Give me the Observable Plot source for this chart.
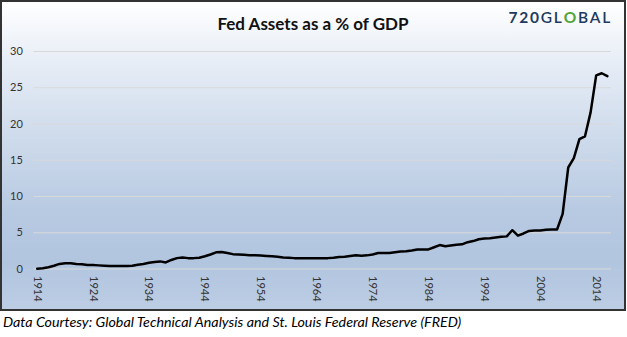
<!DOCTYPE html>
<html><head><meta charset="utf-8">
<script src="https://cdn.jsdelivr.net/npm/d3@7"></script>
<script src="https://cdn.jsdelivr.net/npm/@observablehq/plot@0.6"></script>
<style>
html,body{margin:0;padding:0;background:#fff;}
#wrap{position:relative;width:627px;height:337px;overflow:hidden;font-family:Lato,"Open Sans",sans-serif;}
#box{position:absolute;left:0;top:0;width:622px;height:307px;border:2px solid #333;
  background:linear-gradient(to bottom,#ffffff 0%,#e4ebf5 22%,#cddaeb 45%,#b8cae2 68%,#b2c5df 85%,#bccde4 100%);}
#title{position:absolute;left:0;right:0;top:12px;text-align:center;font-weight:bold;font-size:17px;color:#111;line-height:20px;}
#logo{position:absolute;right:12px;top:6px;font-size:15.5px;line-height:18px;color:#1f3a60;letter-spacing:1.8px;font-weight:bold;}
#logo .g{color:#4fa43a;}
#chart{position:absolute;left:0;top:38px;}
#caption{position:absolute;left:3px;top:313px;font-style:italic;font-size:14.3px;line-height:18px;color:#000;white-space:nowrap;}
</style>
</head><body>
<div id="wrap">
  <div id="box">
    <div id="title">Fed Assets as a % of GDP</div>
    <div id="logo">720<span style="font-weight:600">GL</span><span class="g">O</span><span style="font-weight:600">BAL</span></div>
    <div id="chart"></div>
  </div>
  <div id="caption">Data Courtesy: Global Technical Analysis and St. Louis Federal Reserve (FRED)</div>
</div>
<script>
const years = [1914,1915,1916,1917,1918,1919,1920,1921,1922,1923,
1924,1925,1926,1927,1928,1929,1930,1931,1932,1933,
1934,1935,1936,1937,1938,1939,1940,1941,1942,1943,
1944,1945,1946,1947,1948,1949,1950,1951,1952,1953,
1954,1955,1956,1957,1958,1959,1960,1961,1962,1963,
1964,1965,1966,1967,1968,1969,1970,1971,1972,1973,
1974,1975,1976,1977,1978,1979,1980,1981,1982,1983,
1984,1985,1986,1987,1988,1989,1990,1991,1992,1993,
1994,1995,1996,1997,1998,1999,2000,2001,2002,2003,
2004,2005,2006,2007,2008,2009,2010,2011,2012,2013,
2014,2015,2016];
const fedAssetsPctGDP = [0.05,0.1,0.25,0.45,0.7,0.8,0.8,0.7,0.65,0.55,
0.55,0.5,0.45,0.4,0.4,0.4,0.4,0.45,0.6,0.7,
0.85,0.95,1.05,0.9,1.25,1.5,1.6,1.5,1.5,1.55,
1.75,2.0,2.3,2.35,2.2,2.05,2.0,1.95,1.9,1.9,
1.85,1.8,1.75,1.7,1.6,1.55,1.5,1.5,1.5,1.5,
1.5,1.5,1.5,1.55,1.65,1.7,1.8,1.9,1.82,1.88,
2.0,2.2,2.2,2.2,2.3,2.4,2.45,2.55,2.7,2.7,
2.7,3.0,3.3,3.15,3.25,3.35,3.4,3.7,3.85,4.1,
4.2,4.25,4.35,4.45,4.5,5.35,4.6,4.9,5.25,5.3,
5.3,5.4,5.45,5.45,7.6,14.0,15.3,17.9,18.3,21.6,
26.7,27.0,26.6];
const xTickLabels = [1914,1924,1934,1944,1954,1964,1974,1984,1994,2004,2014];
const yTickLabels = [0,5,10,15,20,25,30];

const data = years.map((y,i)=>({year:y, value:fedAssetsPctGDP[i]}));

const chart = Plot.plot({
  width: 622, height: 269,
  marginTop: 11, marginBottom: 40.5, marginLeft: 31.3, marginRight: 13,
  style: {background:"transparent", fontFamily:"Lato, 'Open Sans', sans-serif", fontSize:"11px", color:"#333", overflow:"visible"},
  x: {domain:[1913.39, 2016.74], ticks: xTickLabels, tickFormat: d => String(d), tickRotate: 90, tickSize: 0, tickPadding: 7, label: null},
  y: {domain:[0,30], ticks: yTickLabels, tickSize: 0, tickPadding: 11, label: null},
  marks: [
    Plot.gridY(yTickLabels, {stroke:"#d9d9d9", strokeOpacity:1, strokeWidth:1}),
    Plot.line(data, {x:"year", y:"value", stroke:"#000", strokeWidth:2.5, strokeLinejoin:"round", strokeLinecap:"round"})
  ]
});
document.getElementById("chart").appendChild(chart);
</script>
</body></html>
